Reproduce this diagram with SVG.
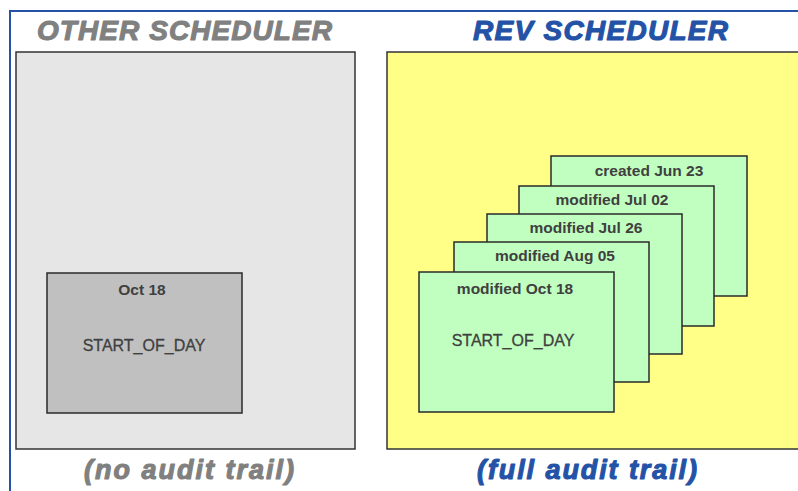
<svg xmlns="http://www.w3.org/2000/svg" width="798" height="491" viewBox="0 0 798 491">
  <style>
    .frame { fill: none; stroke: #2452a6; stroke-width: 2; }
    .panel { stroke: #333333; stroke-width: 1.5; }
    .card { stroke: #2a2a2a; stroke-width: 1.5; }
    .heading { font-family: "Liberation Sans", Arial, sans-serif; font-weight: bold; font-style: italic; stroke-width: 1.1; stroke-linejoin: round; }
    .grey { fill: #808080; stroke: #808080; }
    .blue { fill: #2452a6; stroke: #2452a6; }
    .label { font-family: "Liberation Sans", Arial, sans-serif; font-size: 15.5px; font-weight: bold; fill: #404040; text-anchor: middle; }
    .name { font-family: "Liberation Sans", Arial, sans-serif; font-size: 16px; fill: #404040; stroke: #404040; stroke-width: 0.3; text-anchor: middle; }
  </style>

  <rect width="798" height="491" fill="#ffffff"/>

  <!-- outer blue frame: top and left edges -->
  <path class="frame" d="M10 491 V11 H798"/>

  <!-- left side: scheduler without history -->
  <g id="other-scheduler">
    <text class="heading grey" x="37" y="40" font-size="28" textLength="295" lengthAdjust="spacing">OTHER SCHEDULER</text>
    <rect class="panel" x="16" y="52" width="339" height="397" fill="#e6e6e6"/>
    <text class="heading grey" x="84" y="479" font-size="27" textLength="210" lengthAdjust="spacing">(no audit trail)</text>
  </g>

  <g id="other-start-of-day">
    <rect class="card" x="47" y="273" width="195" height="140" fill="#c0c0c0"/>
    <text class="label" x="142" y="295">Oct 18</text>
    <text class="name" x="144" y="351">START_OF_DAY</text>
  </g>

  <!-- right side: scheduler with revision history -->
  <g id="rev-scheduler">
    <text class="heading blue" x="473" y="40" font-size="28" textLength="255" lengthAdjust="spacing">REV SCHEDULER</text>
    <rect class="panel" x="387" y="52" width="420" height="397" fill="#ffff88"/>
    <text class="heading blue" x="477" y="479" font-size="27" textLength="220" lengthAdjust="spacing">(full audit trail)</text>
  </g>

  <g id="rev-jun23">
    <rect class="card" x="551" y="156" width="196" height="140" fill="#c0ffc0"/>
    <text class="label" x="649" y="176">created Jun 23</text>
  </g>

  <g id="rev-jul02">
    <rect class="card" x="519" y="186" width="195" height="140" fill="#c0ffc0"/>
    <text class="label" x="612" y="205">modified Jul 02</text>
  </g>

  <g id="rev-jul26">
    <rect class="card" x="487" y="214" width="195" height="140" fill="#c0ffc0"/>
    <text class="label" x="586" y="233">modified Jul 26</text>
  </g>

  <g id="rev-aug05">
    <rect class="card" x="454" y="242" width="195" height="140" fill="#c0ffc0"/>
    <text class="label" x="555" y="261">modified Aug 05</text>
  </g>

  <g id="rev-oct18">
    <rect class="card" x="419" y="272" width="195" height="140" fill="#c0ffc0"/>
    <text class="label" x="515" y="294">modified Oct 18</text>
    <text class="name" x="513" y="346">START_OF_DAY</text>
  </g>
</svg>
